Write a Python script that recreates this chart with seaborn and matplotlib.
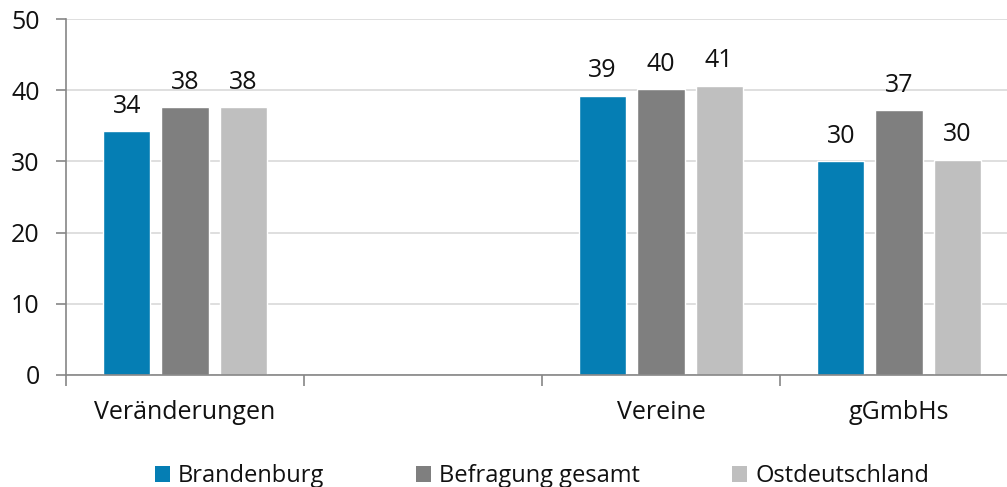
import numpy as np
import pandas as pd
import matplotlib
matplotlib.use("Agg")
import matplotlib.pyplot as plt
import seaborn as sns
from matplotlib.patches import Patch

categories = ["Veränderungen", " ", "Vereine", "gGmbHs"]
series = ["Brandenburg", "Befragung gesamt", "Ostdeutschland"]
brandenburg = [34.2, np.nan, 39.2, 30.0]
befragung = [37.6, np.nan, 40.1, 37.2]
ostdeutschland = [37.6, np.nan, 40.6, 30.2]
colors = ["#057EB4", "#7F7F7F", "#BFBFBF"]
y_ticks = [0, 10, 20, 30, 40, 50]

rows = []
for name, vals in zip(series, [brandenburg, befragung, ostdeutschland]):
    for c, v in zip(categories, vals):
        if not np.isnan(v):
            rows.append({"Kategorie": c, "Reihe": name, "Wert": v})
df = pd.DataFrame(rows)

sns.set_theme(style="white")
plt.rcParams["font.family"] = ["Open Sans", "DejaVu Sans"]

fig = plt.figure(figsize=(10.07, 4.87), dpi=100)
W, H = 1007, 487
ax = fig.add_axes([66 / W, 1 - 375 / H, (4 * 238) / W, (375 - 19) / H])

sns.barplot(data=df, x="Kategorie", y="Wert", hue="Reihe", order=categories,
            hue_order=series, palette=colors, width=0.735, gap=0.19,
            saturation=1, ax=ax, legend=False, errorbar=None)

for cont in ax.containers:
    ax.bar_label(cont, fmt="%.0f", padding=9, fontsize=18, color="#111111")

ax.set_ylim(0, 50)
ax.set_xlim(-0.5, 3.5)
ax.set_yticks(y_ticks)
ax.yaxis.grid(True, color="#D9D9D9", linewidth=1.2)
ax.set_axisbelow(True)
ax.set_xlabel("")
ax.set_ylabel("")
for s in ["top", "right"]:
    ax.spines[s].set_visible(False)
ax.spines["left"].set_color("#868686")
ax.spines["bottom"].set_color("#868686")
ax.spines["left"].set_linewidth(1.2)
ax.spines["bottom"].set_linewidth(1.2)

ax.tick_params(axis="y", which="major", length=7, color="#868686", width=1.2,
               labelsize=18, labelcolor="#111111", pad=12, left=True)
ax.tick_params(axis="x", which="major", length=0, labelsize=18,
               labelcolor="#111111", pad=18)
ax.set_xticks([-0.5, 0.5, 1.5, 2.5], minor=True)
ax.tick_params(axis="x", which="minor", length=8, color="#868686", width=1.2,
               bottom=True, direction="out")

handles = [Patch(facecolor=c, edgecolor="none") for c in colors]
fig.legend(handles, series, loc="center", bbox_to_anchor=(542 / W, 1 - 476 / H),
           ncol=3, frameon=False, fontsize=17, handlelength=0.64, handleheight=0.64,
           handletextpad=0.34, columnspacing=3.9, labelcolor="#111111")

fig.savefig("out.png", dpi=100)
